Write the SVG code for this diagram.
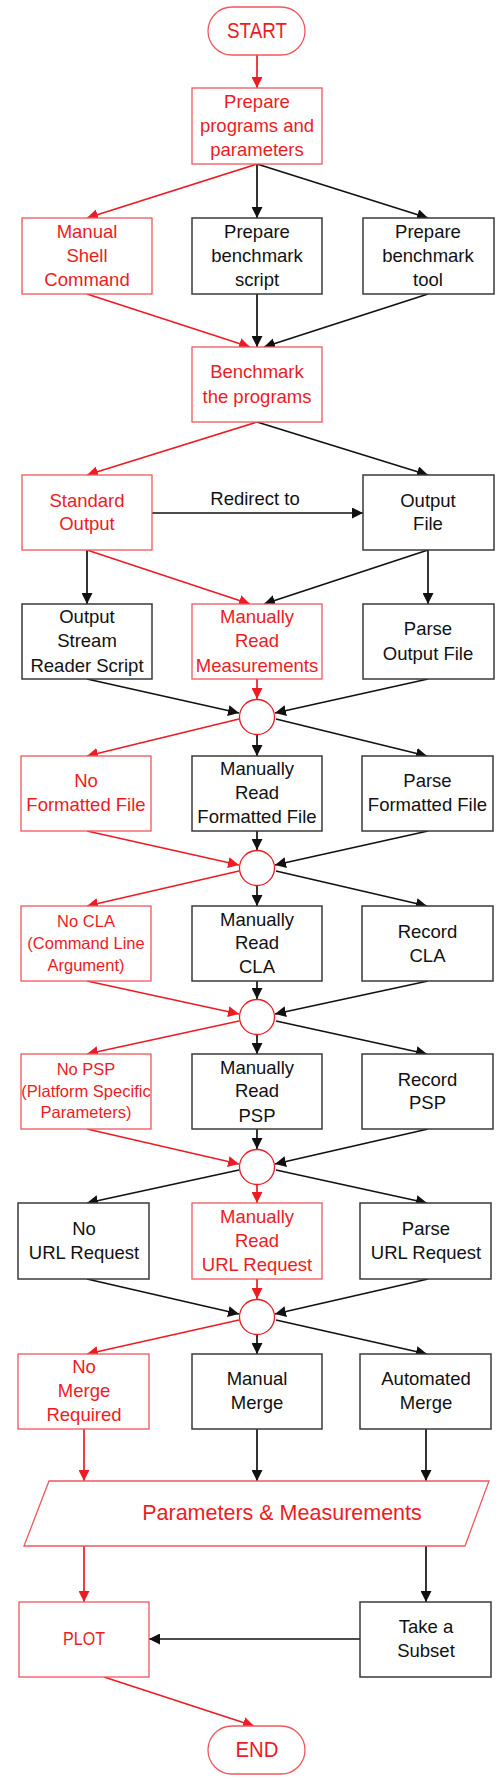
<svg xmlns="http://www.w3.org/2000/svg" width="504" height="1780" viewBox="0 0 504 1780">
<defs>
<style>
text{font-family:"Liberation Sans",Arial,sans-serif;font-size:18.5px;text-anchor:middle}
.r{fill:#ED1C24}
.k{fill:#111}
.sm{font-size:16.5px}
.rb{fill:#fff;stroke:#F0575D;stroke-width:1.3}
.kb{fill:#fff;stroke:#3a3a3a;stroke-width:1.5}
.rl{stroke:#ED1C24;stroke-width:1.7;fill:none;marker-end:url(#ar)}
.kl{stroke:#111;stroke-width:1.7;fill:none;marker-end:url(#ak)}
</style>
<marker id="ar" markerUnits="userSpaceOnUse" markerWidth="11" markerHeight="11" refX="11" refY="5.5" orient="auto"><path d="M0,0 L11,5.5 L0,11 z" fill="#ED1C24"/></marker>
<marker id="ak" markerUnits="userSpaceOnUse" markerWidth="11" markerHeight="11" refX="11" refY="5.5" orient="auto"><path d="M0,0 L11,5.5 L0,11 z" fill="#111"/></marker>
</defs>
<rect width="504" height="1780" fill="#fff"/>

<g id="connectors">
<line class="rl" x1="257" y1="55" x2="257" y2="88"/>
<line class="rl" x1="257" y1="164" x2="87" y2="218"/>
<line class="kl" x1="257" y1="164" x2="257" y2="218"/>
<line class="kl" x1="257" y1="164" x2="428" y2="218"/>
<line class="rl" x1="87" y1="294" x2="250" y2="347"/>
<line class="kl" x1="257" y1="294" x2="257" y2="347"/>
<line class="kl" x1="428" y1="294" x2="264" y2="347"/>
<line class="rl" x1="257" y1="422" x2="87" y2="475"/>
<line class="kl" x1="257" y1="422" x2="428" y2="475"/>
<line class="kl" x1="152" y1="513" x2="363" y2="513"/>
<line class="kl" x1="87" y1="550" x2="87" y2="604"/>
<line class="rl" x1="87" y1="550" x2="250" y2="604"/>
<line class="kl" x1="428" y1="550" x2="264" y2="604"/>
<line class="kl" x1="428" y1="550" x2="428" y2="604"/>

<line class="kl" x1="87" y1="679" x2="239" y2="713"/>
<line class="rl" x1="257" y1="679" x2="257" y2="699"/>
<line class="kl" x1="428" y1="679" x2="275" y2="713"/>
<line class="rl" x1="239" y1="719" x2="87" y2="756"/>
<line class="kl" x1="257" y1="735" x2="257" y2="756"/>
<line class="kl" x1="276" y1="719" x2="427" y2="756"/>

<line class="rl" x1="87" y1="831" x2="239" y2="865"/>
<line class="kl" x1="257" y1="831" x2="257" y2="850"/>
<line class="kl" x1="428" y1="831" x2="275" y2="865"/>
<line class="rl" x1="239" y1="871" x2="87" y2="906"/>
<line class="kl" x1="257" y1="886" x2="257" y2="906"/>
<line class="kl" x1="276" y1="871" x2="427" y2="906"/>

<line class="rl" x1="87" y1="981" x2="239" y2="1014"/>
<line class="kl" x1="257" y1="981" x2="257" y2="999"/>
<line class="kl" x1="428" y1="981" x2="275" y2="1014"/>
<line class="rl" x1="239" y1="1021" x2="87" y2="1054"/>
<line class="kl" x1="257" y1="1035" x2="257" y2="1054"/>
<line class="kl" x1="276" y1="1021" x2="427" y2="1054"/>

<line class="rl" x1="87" y1="1129" x2="239" y2="1164"/>
<line class="kl" x1="257" y1="1129" x2="257" y2="1149"/>
<line class="kl" x1="428" y1="1129" x2="275" y2="1164"/>
<line class="kl" x1="239" y1="1170" x2="87" y2="1203"/>
<line class="rl" x1="257" y1="1185" x2="257" y2="1203"/>
<line class="kl" x1="276" y1="1170" x2="427" y2="1203"/>

<line class="kl" x1="87" y1="1279" x2="239" y2="1314"/>
<line class="rl" x1="257" y1="1279" x2="257" y2="1299"/>
<line class="kl" x1="428" y1="1279" x2="275" y2="1314"/>
<line class="rl" x1="239" y1="1320" x2="87" y2="1354"/>
<line class="kl" x1="257" y1="1335" x2="257" y2="1354"/>
<line class="kl" x1="276" y1="1320" x2="427" y2="1354"/>

<line class="rl" x1="84" y1="1429" x2="84" y2="1481"/>
<line class="kl" x1="257" y1="1429" x2="257" y2="1481"/>
<line class="kl" x1="426" y1="1429" x2="426" y2="1481"/>
<line class="rl" x1="84" y1="1546" x2="84" y2="1602"/>
<line class="kl" x1="426" y1="1546" x2="426" y2="1602"/>
<line class="kl" x1="360" y1="1639" x2="149" y2="1639"/>
<line class="rl" x1="104" y1="1677" x2="254" y2="1726"/>
</g>

<g id="start"><rect class="rb" x="208" y="7" width="97" height="48" rx="24"/><text class="r" x="257" y="38" style="font-size:22px" textLength="60" lengthAdjust="spacingAndGlyphs">START</text></g>
<g id="prepare"><rect class="rb" x="192" y="88" width="130" height="76"/><text class="r" x="257" y="108">Prepare</text><text class="r" x="257" y="132">programs and</text><text class="r" x="257" y="156">parameters</text></g>

<g id="shell"><rect class="rb" x="22" y="218" width="130" height="76"/><text class="r" x="87" y="238">Manual</text><text class="r" x="87" y="262">Shell</text><text class="r" x="87" y="286">Command</text></g>
<g id="bscript"><rect class="kb" x="192" y="218" width="130" height="76"/><text class="k" x="257" y="238">Prepare</text><text class="k" x="257" y="262">benchmark</text><text class="k" x="257" y="286">script</text></g>
<g id="btool"><rect class="kb" x="363" y="218" width="131" height="76"/><text class="k" x="428" y="238">Prepare</text><text class="k" x="428" y="262">benchmark</text><text class="k" x="428" y="286">tool</text></g>

<g id="benchmark"><rect class="rb" x="192" y="347" width="130" height="75"/><text class="r" x="257" y="378">Benchmark</text><text class="r" x="257" y="403">the programs</text></g>

<g id="stdout"><rect class="rb" x="22" y="475" width="130" height="75"/><text class="r" x="87" y="507">Standard</text><text class="r" x="87" y="530">Output</text></g>
<g id="outfile"><rect class="kb" x="363" y="475" width="131" height="75"/><text class="k" x="428" y="507">Output</text><text class="k" x="428" y="530">File</text></g>
<g id="redirect-label"><text class="k" x="255" y="505">Redirect to</text></g>

<g id="osr"><rect class="kb" x="22" y="604" width="130" height="75"/><text class="k" x="87" y="623">Output</text><text class="k" x="87" y="647">Stream</text><text class="k" x="87" y="672">Reader Script</text></g>
<g id="mrm"><rect class="rb" x="192" y="604" width="130" height="75"/><text class="r" x="257" y="623">Manually</text><text class="r" x="257" y="647">Read</text><text class="r" x="257" y="672">Measurements</text></g>
<g id="pof"><rect class="kb" x="363" y="604" width="131" height="75"/><text class="k" x="428" y="635">Parse</text><text class="k" x="428" y="660">Output File</text></g>

<g id="c1"><circle cx="257" cy="717" r="17.5" fill="#fff" stroke="#ED1C24" stroke-width="1.3"/></g>

<g id="nff"><rect class="rb" x="21" y="756" width="130" height="75"/><text class="r" x="86" y="787">No</text><text class="r" x="86" y="811">Formatted File</text></g>
<g id="mrff"><rect class="kb" x="192" y="756" width="130" height="75"/><text class="k" x="257" y="775">Manually</text><text class="k" x="257" y="799">Read</text><text class="k" x="257" y="823">Formatted File</text></g>
<g id="pff"><rect class="kb" x="362" y="756" width="131" height="75"/><text class="k" x="427.5" y="787">Parse</text><text class="k" x="427.5" y="811">Formatted File</text></g>

<g id="c2"><circle cx="257" cy="868" r="17.5" fill="#fff" stroke="#ED1C24" stroke-width="1.3"/></g>

<g id="ncla"><rect class="rb" x="21" y="906" width="130" height="75"/><text class="r sm" x="86" y="927">No CLA</text><text class="r sm" x="86" y="949">(Command Line</text><text class="r sm" x="86" y="971">Argument)</text></g>
<g id="mrcla"><rect class="kb" x="192" y="906" width="130" height="75"/><text class="k" x="257" y="926">Manually</text><text class="k" x="257" y="949">Read</text><text class="k" x="257" y="973">CLA</text></g>
<g id="rcla"><rect class="kb" x="362" y="906" width="131" height="75"/><text class="k" x="427.5" y="938">Record</text><text class="k" x="427.5" y="962">CLA</text></g>

<g id="c3"><circle cx="257" cy="1017" r="17.5" fill="#fff" stroke="#ED1C24" stroke-width="1.3"/></g>

<g id="npsp"><rect class="rb" x="21" y="1054" width="130" height="75"/><text class="r sm" x="86" y="1075">No PSP</text><text class="r sm" x="86" y="1097">(Platform Specific</text><text class="r sm" x="86" y="1118">Parameters)</text></g>
<g id="mrpsp"><rect class="kb" x="192" y="1054" width="130" height="75"/><text class="k" x="257" y="1074">Manually</text><text class="k" x="257" y="1097">Read</text><text class="k" x="257" y="1122">PSP</text></g>
<g id="rpsp"><rect class="kb" x="362" y="1054" width="131" height="75"/><text class="k" x="427.5" y="1086">Record</text><text class="k" x="427.5" y="1109">PSP</text></g>

<g id="c4"><circle cx="257" cy="1167" r="17.5" fill="#fff" stroke="#ED1C24" stroke-width="1.3"/></g>

<g id="nurl"><rect class="kb" x="18" y="1203" width="131" height="76"/><text class="k" x="84" y="1235">No</text><text class="k" x="84" y="1259">URL Request</text></g>
<g id="mrurl"><rect class="rb" x="192" y="1203" width="130" height="76"/><text class="r" x="257" y="1223">Manually</text><text class="r" x="257" y="1247">Read</text><text class="r" x="257" y="1271">URL Request</text></g>
<g id="purl"><rect class="kb" x="360" y="1203" width="131" height="76"/><text class="k" x="426" y="1235">Parse</text><text class="k" x="426" y="1259">URL Request</text></g>

<g id="c5"><circle cx="257" cy="1317" r="17.5" fill="#fff" stroke="#ED1C24" stroke-width="1.3"/></g>

<g id="nmerge"><rect class="rb" x="18" y="1354" width="131" height="75"/><text class="r" x="84" y="1373">No</text><text class="r" x="84" y="1397">Merge</text><text class="r" x="84" y="1421">Required</text></g>
<g id="mmerge"><rect class="kb" x="192" y="1354" width="130" height="75"/><text class="k" x="257" y="1385">Manual</text><text class="k" x="257" y="1409">Merge</text></g>
<g id="amerge"><rect class="kb" x="360" y="1354" width="131" height="75"/><text class="k" x="426" y="1385">Automated</text><text class="k" x="426" y="1409">Merge</text></g>

<g id="params"><polygon points="49,1481 489,1481 465,1546 24,1546" fill="#fff" stroke="#F0575D" stroke-width="1.3"/><text class="r" x="282" y="1520" style="font-size:21.5px">Parameters &amp; Measurements</text></g>

<g id="plot"><rect class="rb" x="19" y="1602" width="130" height="75"/><text class="r" x="84" y="1645" textLength="42" lengthAdjust="spacingAndGlyphs">PLOT</text></g>
<g id="subset"><rect class="kb" x="360" y="1602" width="131" height="75"/><text class="k" x="426" y="1633">Take a</text><text class="k" x="426" y="1657">Subset</text></g>

<g id="end"><rect class="rb" x="208" y="1726" width="97" height="48" rx="24"/><text class="r" x="257" y="1757" style="font-size:22px" textLength="43" lengthAdjust="spacingAndGlyphs">END</text></g>
</svg>
